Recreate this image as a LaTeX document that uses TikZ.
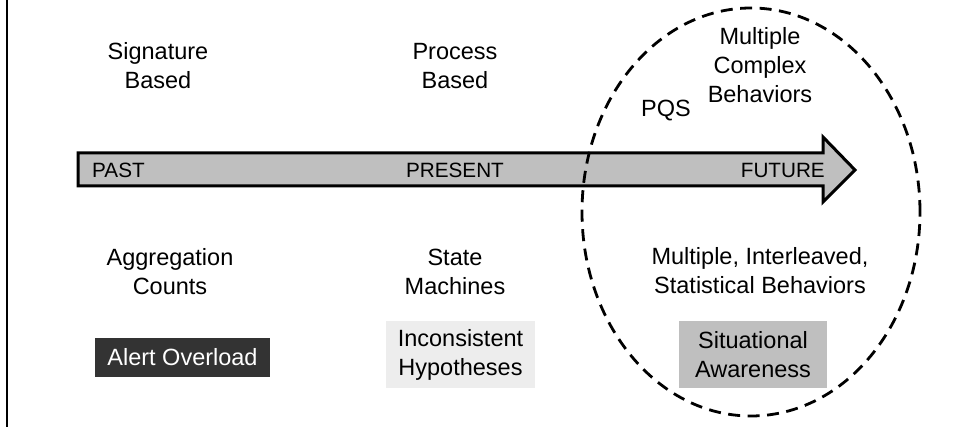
\documentclass[tikz,border=0pt]{standalone}
\usepackage{fontspec}
\setmainfont{Liberation Sans}
\usetikzlibrary{positioning}
\tikzstyle{every node}=[font=\fontsize{23.5}{29}\selectfont,
                        align=center,
                        inner sep=0pt]
\tikzstyle{era}=[font=\fontsize{20.7}{24}\selectfont]
\tikzstyle{approach}=[text=black]
\tikzstyle{outcome}=[minimum width=149pt,
                     minimum height=67pt]
\tikzstyle{timeline}=[line width=3pt,
                      draw=black,
                      fill=black!25,
                      line join=miter]
\tikzstyle{horizon}=[line width=2.8pt,
                     dash pattern=on 12pt off 7.5pt]

\begin{document}
\begin{tikzpicture}[x=1pt,y=-1pt]
\useasboundingbox (0,0) rectangle (954,430);
% left border line
\coordinate (B_top) at (7,0);
\coordinate (B_bot) at (7,427);
\draw[line width=2.8pt] (B_top) -- (B_bot);
% time arrow
\coordinate (A_0) at (78,153);
\coordinate (A_1) at (823,153);
\coordinate (A_2) at (823,137);
\coordinate (A_3) at (855,170);
\coordinate (A_4) at (823,202);
\coordinate (A_5) at (823,186);
\coordinate (A_6) at (78,186);
\draw[timeline] (A_0) -- (A_1) -- (A_2) -- (A_3) -- (A_4) -- (A_5) -- (A_6) -- cycle;
\node (past)    [era,anchor=west] at (92,170) {PAST};
\node (present) [era] at (455,170) {PRESENT};
\node (future)  [era,anchor=east] at (825,170) {FUTURE};
% future region
\node (center) [circle,inner sep=0pt] at (751,212) {};
\draw[horizon] (center) ellipse [x radius=169pt, y radius=204pt];
% upper row
\node (sig)  [approach] at (158,66) {Signature\\Based};
\node (proc) [approach] at (455,66) {Process\\Based};
\node (mcb)  [approach] at (760,65) {Multiple\\Complex\\Behaviors};
\node (pqs)  [anchor=base west] at (641,117) {PQS};
% lower row
\node (agg)   [approach] at (170,272) {Aggregation\\Counts};
\node (state) [approach] at (455,272) {State\\Machines};
\node (mis)   [approach] at (760,271) {Multiple, Interleaved,\\Statistical Behaviors};
% outcomes
\node (alert) [fill=black!80,text=white,minimum width=175pt,minimum height=39pt] at (182.5,357.5) {Alert Overload};
\node (incon) [outcome,fill=black!7] at (460.5,354.5) {Inconsistent\\Hypotheses};
\node (aware) [outcome,fill=black!25,minimum width=148pt] at (753,354.5) {Situational\\Awareness};
\end{tikzpicture}
\end{document}
